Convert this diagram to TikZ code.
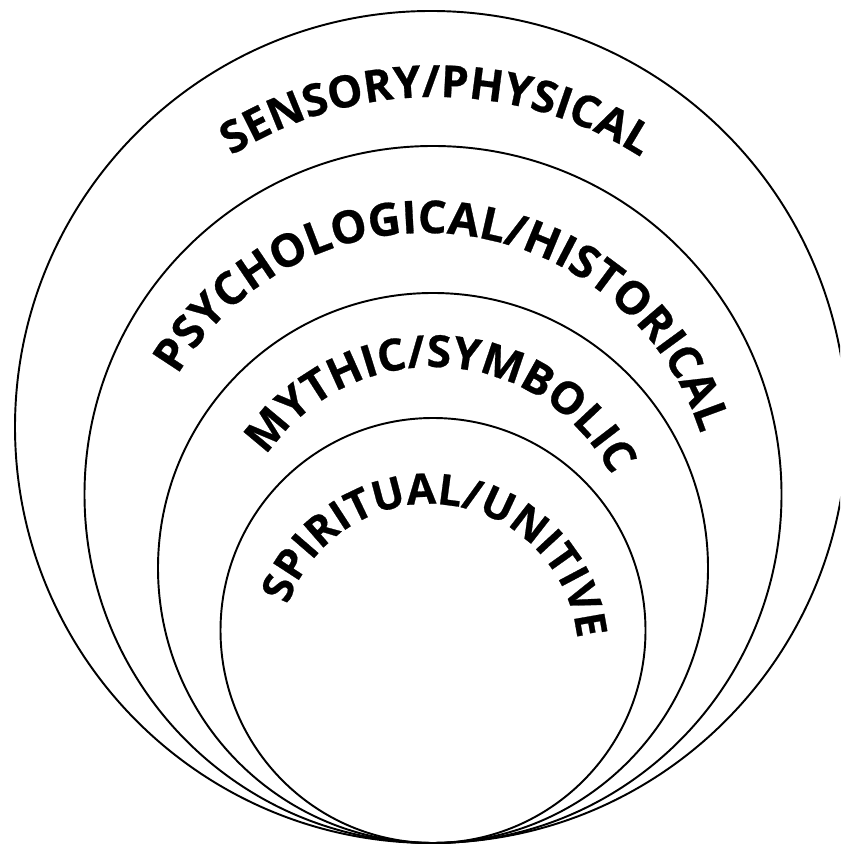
\documentclass[tikz,border=0pt]{standalone}
\usepackage{fontspec}
\setmainfont{Open Sans}
\newfontfamily\ringfont{Open Sans}[BoldFeatures={FakeBold=0.6}]
\usetikzlibrary{decorations.text}

\begin{document}
\begin{tikzpicture}[
  x=0.02cm, y=0.02cm,
  ring/.style={draw, line width=1.1pt},
  ringlabel/.style 2 args={decorate, decoration={text along path, text align=center, text={|\ringfont\bfseries\fontsize{#1}{#1}\selectfont|#2}}}
]
\useasboundingbox (0,0) rectangle (840,844);
\clip (0,0) rectangle (840,844);

% rings, all touching at the bottom
\draw[ring] (431,417) circle[radius=416];
\draw[ring] (433,349.5) circle[radius=348.5];
\draw[ring] (433,276) circle[radius=275];
\draw[ring] (433,213.5) circle[radius=212.5];

% labels along the rings
\path[ringlabel={25.2}{SENSORY/PHYSICAL}] (435,365) ++(179.8:382) arc[start angle=179.8, end angle=-0.2, radius=382];
\path[ringlabel={25.8}{PSYCHOLOGICAL/HISTORICAL}] (426,323) ++(173.6:288) arc[start angle=173.6, end angle=-6.4, radius=288];
\path[ringlabel={25.2}{MYTHIC/SYMBOLIC}] (433,276) ++(176.7:201) arc[start angle=176.7, end angle=-3.3, radius=201];
\path[ringlabel={24.2}{SPIRITUAL/UNITIVE}] (429,191) ++(173.3:149) arc[start angle=173.3, end angle=-6.7, radius=149];

\end{tikzpicture}
\end{document}
